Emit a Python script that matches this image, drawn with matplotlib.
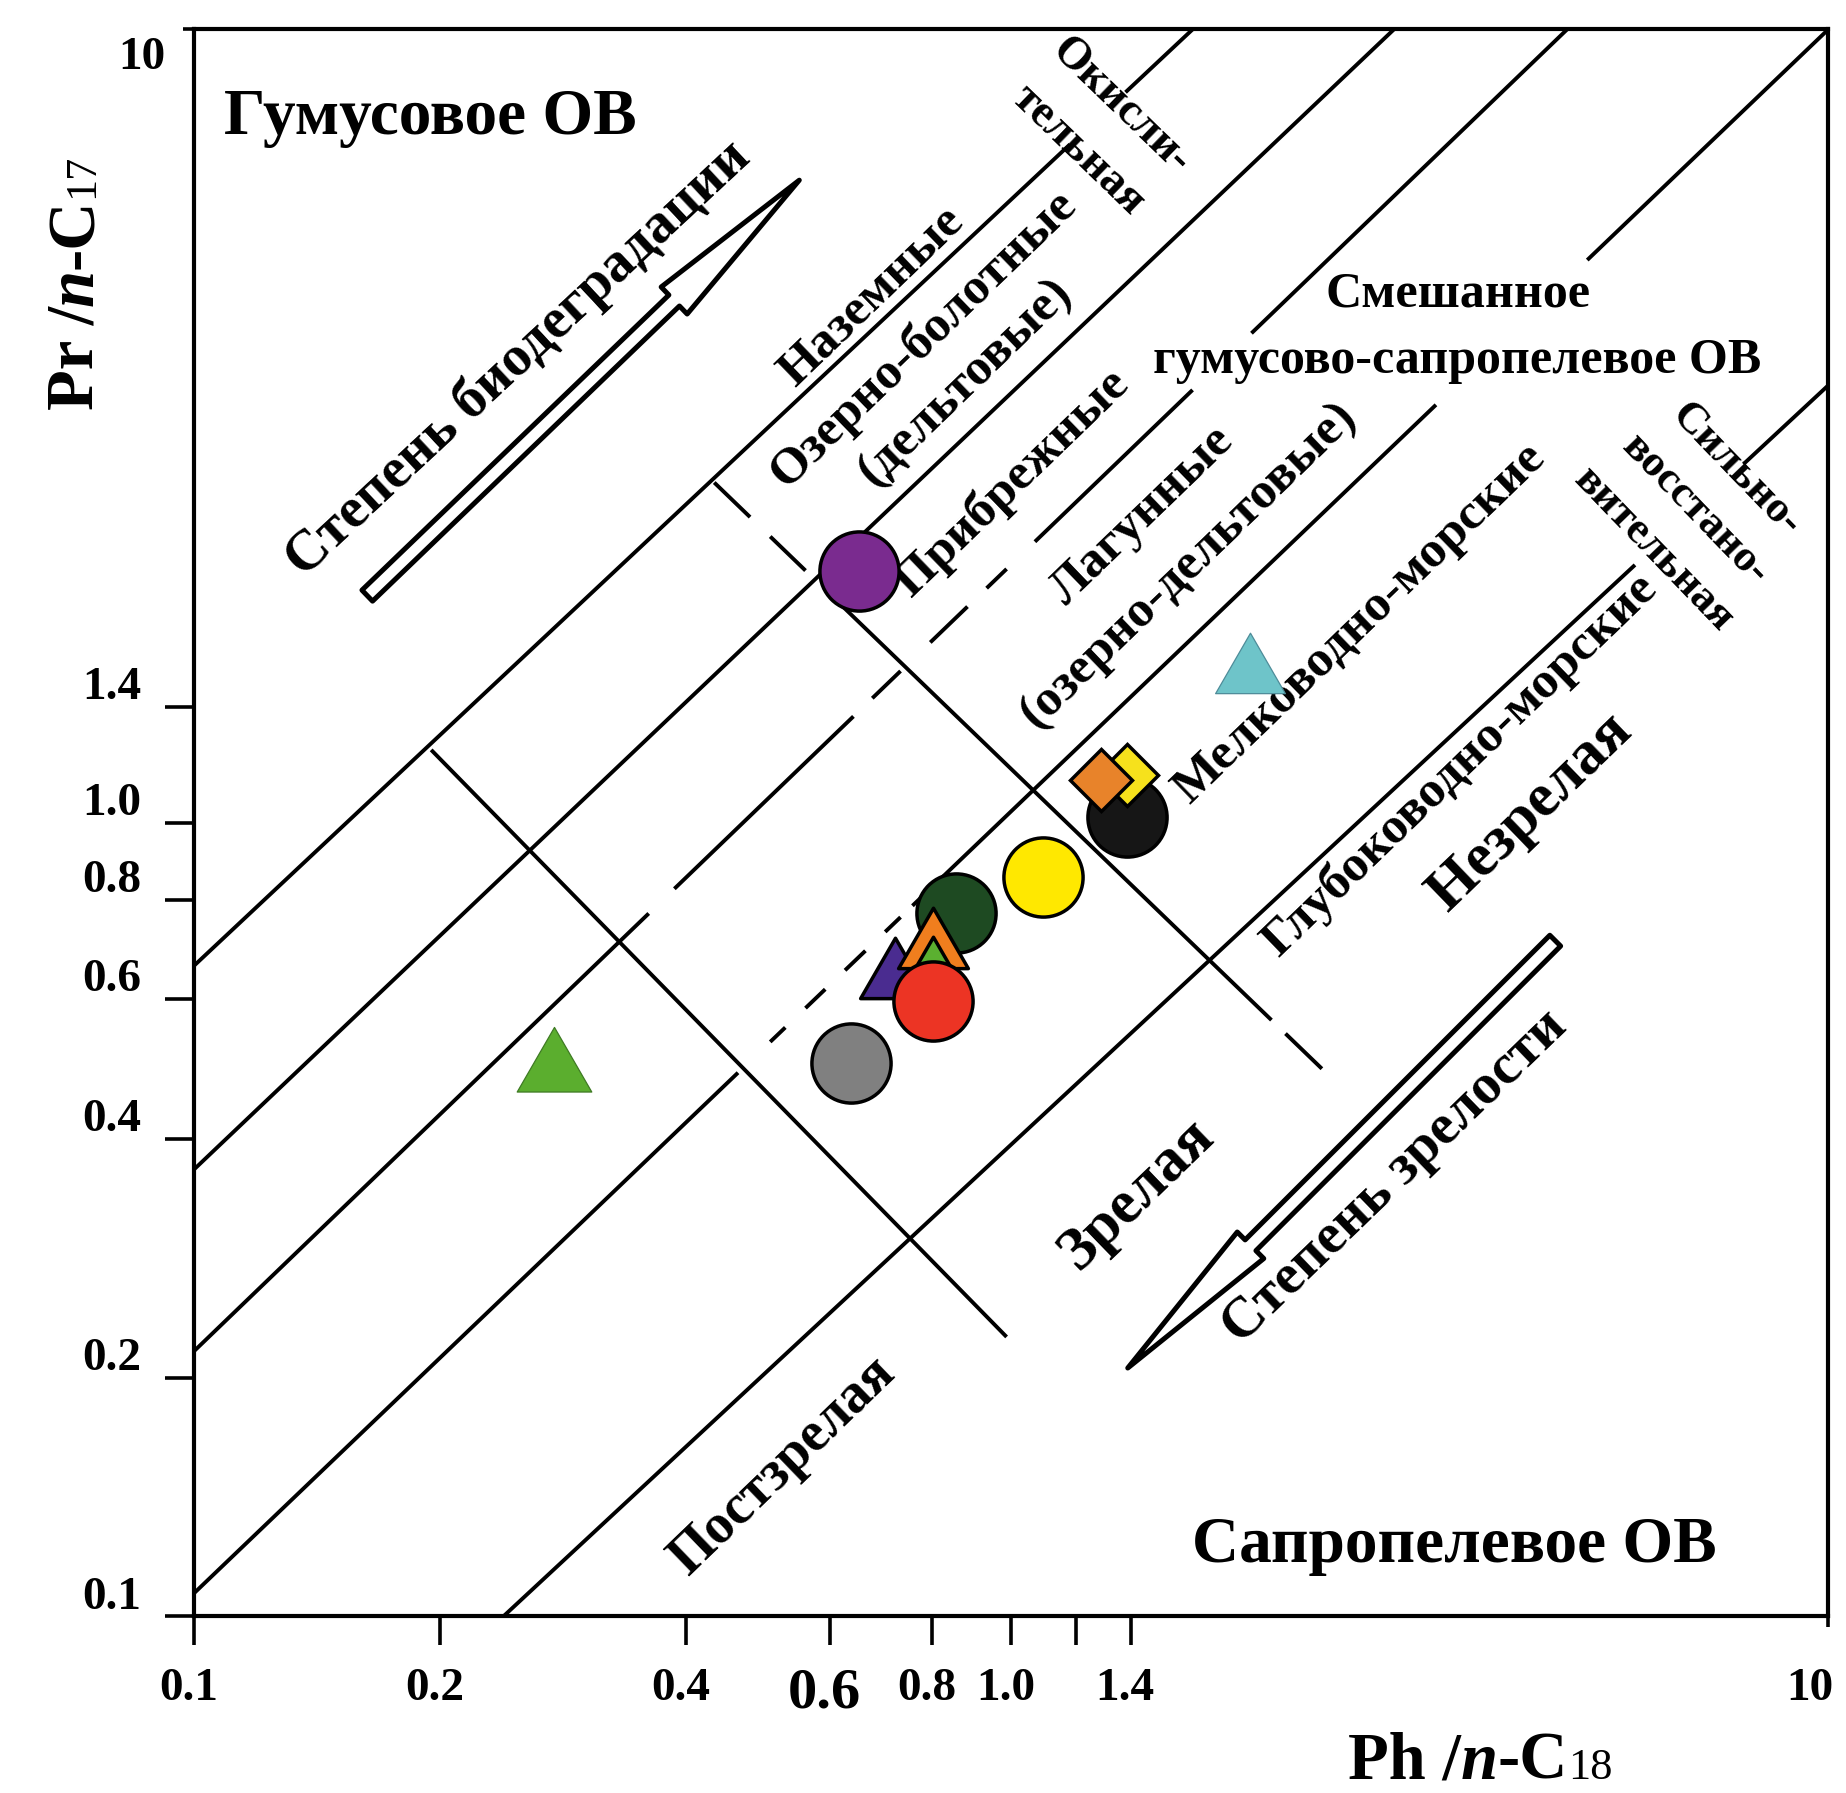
import matplotlib
matplotlib.use("Agg")
import matplotlib.pyplot as plt
import numpy as np
from matplotlib.path import Path
from matplotlib.transforms import ScaledTranslation

plt.rcParams['font.family'] = ['Liberation Serif', 'DejaVu Serif']
plt.rcParams['font.weight'] = 'bold'

# --- samples: Ph/n-C18 (x), Pr/n-C17 (y); listed from back to front
sample_x = [1.384, 1.384, 1.287, 1.094, 0.856, 0.720, 0.803, 0.803, 0.801, 0.637, 0.652, 1.961, 0.276]
sample_y = [1.017, 1.150, 1.131, 0.855, 0.771, 0.637, 0.696, 0.639, 0.597, 0.498, 2.077, 1.543, 0.488]
sample_marker = ['o', 'D', 'D', 'o', 'o', 'tri', 'tri', 'tri', 'o', 'o', 'o', 'tri', 'tri']
sample_color = ['#161616', '#F6E11C', '#E8832A', '#FFE800', '#1E4A22', '#4A2C90', '#F07E1E',
                '#5BB030', '#EC3424', '#808080', '#7A2B8F', '#6EC4C9', '#5BAE2E']
sample_edge = ['black'] * 11 + ['#4E8C99', '#3E7A23']

# --- environment lines (Pr/n-C17 vs Ph/n-C18), full extent of each line
diag_x0 = [0.1, 0.1, 0.1, 0.1, 0.239]
diag_y0 = [0.661, 0.366, 0.216, 0.107, 0.1]
diag_x1 = [1.667, 2.94, 4.79, 10.0, 10.0]
diag_y1 = [10.0, 10.0, 10.0, 10.0, 3.56]
# drawn pieces of each line: (line, x from, x to)
diag_pieces = [
    (0, 0.1, 1.18), (0, 1.38, 1.667),
    (1, 0.1, 2.94),
    (2, 0.1, 0.36), (2, 0.387, 0.641), (2, 0.676, 0.732), (2, 0.796, 0.884), (2, 0.933, 0.987),
    (2, 1.069, 1.667), (2, 1.968, 4.79),
    (3, 0.1, 0.463), (3, 0.507, 0.529), (3, 0.560, 0.592), (3, 0.626, 0.663), (3, 0.701, 0.732),
    (3, 0.757, 3.31), (3, 5.07, 10.0),
    (4, 0.239, 5.80), (4, 7.88, 10.0),
]

# --- maturity boundaries
perp_x0 = [0.195, 0.433]
perp_y0 = [1.236, 2.685]
perp_x1 = [0.987, 2.40]
perp_y1 = [0.225, 0.490]
perp_pieces = [(0, 0.195, 0.987),
               (1, 0.433, 0.479), (1, 0.507, 0.560), (1, 0.590, 2.082), (1, 2.166, 2.40)]

xtick_vals = [0.1, 0.2, 0.4, 0.6, 0.8, 1.0, 1.2, 1.4, 10]
xtick_text = ['0.1', '0.2', '0.4', '0.6', '0.8', '1.0', '', '1.4', '10']
ytick_vals = [0.1, 0.2, 0.4, 0.6, 0.8, 1.0, 1.4, 10]
ytick_text = ['0.1', '0.2', '0.4', '0.6', '0.8', '1.0', '1.4', '10']


def line_y(x, x0, y0, x1, y1):
    s = np.log(y1 / y0) / np.log(x1 / x0)
    return y0 * (x / x0) ** s


fig = plt.figure(figsize=(18.46, 17.93), dpi=100)
ax = fig.add_axes([0.1052, 0.0985, 0.8852, 0.8851])
ax.set_xscale('log')
ax.set_yscale('log')
ax.set_xlim(0.1, 10)
ax.set_ylim(0.1, 10)

lw = 2.8
for k, a, b in diag_pieces:
    xs = np.geomspace(a, b, 20)
    ax.plot(xs, line_y(xs, diag_x0[k], diag_y0[k], diag_x1[k], diag_y1[k]),
            color='black', lw=lw, solid_capstyle='butt', zorder=2)
for k, a, b in perp_pieces:
    xs = np.geomspace(a, b, 20)
    ax.plot(xs, line_y(xs, perp_x0[k], perp_y0[k], perp_x1[k], perp_y1[k]),
            color='black', lw=lw, solid_capstyle='butt', zorder=2)

tri = Path([(0, 1), (-0.866, -0.5), (0.866, -0.5), (0, 1)],
           [Path.MOVETO, Path.LINETO, Path.LINETO, Path.CLOSEPOLY])
for i in range(len(sample_x)):
    m = sample_marker[i]
    if m == 'tri':
        mk, ms = tri, 58
    elif m == 'D':
        mk, ms = 'D', 32
    else:
        mk, ms = 'o', 57
    ew = 0.9 if i >= 11 else 2.5
    if i == 12:
        ms = 62
    ax.plot(sample_x[i], sample_y[i], marker=mk, ms=ms, mfc=sample_color[i],
            mec=sample_edge[i], mew=ew, ls='none', zorder=5 + i)

# hollow arrows
arrow_style = 'simple,head_length=1.25,head_width=0.27,tail_width=0.11'
ax.annotate('', xy=(0.3703, 0.9050), xytext=(0.1059, 0.6432), xycoords='axes fraction',
            arrowprops=dict(arrowstyle=arrow_style, fc='white', ec='black', lw=3.6,
                            shrinkA=0, shrinkB=0, mutation_scale=100))
ax.annotate('', xy=(0.5713, 0.1565), xytext=(0.8329, 0.4258), xycoords='axes fraction',
            arrowprops=dict(arrowstyle=arrow_style, fc='white', ec='black', lw=3.6,
                            shrinkA=0, shrinkB=0, mutation_scale=100))

# region labels
def label(x, y, s, size, rot=0, ls=1.2):
    ax.text(x, y, s, transform=ax.transAxes, fontsize=size, rotation=rot,
            ha='center', va='center', linespacing=ls, fontweight='bold', zorder=3)

ax.text(0.018, 0.944, 'Гумусовое ОВ', transform=ax.transAxes, fontsize=47,
        ha='left', va='center', fontweight='bold')
label(0.7709, 0.0445, 'Сапропелевое ОВ', 47)
label(0.7731, 0.8119, 'Смешанное\nгумусово-сапропелевое ОВ', 36, 0, 1.6)
label(0.1981, 0.7923, 'Степень биодеградации', 41, 43)
label(0.7349, 0.2767, 'Степень зрелости', 41, 44)
label(0.4143, 0.8316, 'Наземные', 37, 44)
label(0.4589, 0.7915, 'Озерно-болотные\n(дельтовые)', 37, 44, 1.4)
label(0.5540, 0.9377, 'Окисли-\nтельная', 33, -44, 1.6)
label(0.5007, 0.7144, 'Прибрежные', 37, 44)
label(0.5944, 0.6780, 'Лагунные\n(озерно-дельтовые)', 37, 44, 1.6)
label(0.7133, 0.6254, 'Мелководно-морские', 37, 44)
label(0.9186, 0.6973, 'Сильно-\nвосстано-\nвительная', 32, -46, 1.55)
label(0.7745, 0.5364, 'Глубоководно-морские', 37, 44)
label(0.8177, 0.5067, 'Незрелая', 44, 44)
label(0.5764, 0.2656, 'Зрелая', 44, 44)
label(0.3602, 0.0950, 'Постзрелая', 40, 44)

# ticks
ax.xaxis.set_minor_locator(plt.NullLocator())
ax.yaxis.set_minor_locator(plt.NullLocator())
ax.set_xticks(xtick_vals, xtick_text)
ax.set_yticks(ytick_vals, ytick_text)
ax.tick_params(direction='out', length=21, width=2.6, labelsize=34, color='black')
ax.tick_params(axis='y', pad=17)
ax.tick_params(axis='x', pad=16)
for sp in ax.spines.values():
    sp.set_linewidth(3.0)

for t in ax.yaxis.get_major_ticks():
    t.label1.set_fontweight('bold')
for t in ax.xaxis.get_major_ticks():
    t.label1.set_fontweight('bold')

for lab in ax.get_yticklabels():
    if lab.get_text() == '10':
        off = ScaledTranslation(17 / 72, -17 / 72, fig.dpi_scale_trans)
    else:
        off = ScaledTranslation(0, 17 / 72, fig.dpi_scale_trans)
    lab.set_transform(lab.get_transform() + off)
for lab in ax.get_xticklabels():
    dx = -13 if lab.get_text() == '10' else -4
    lab.set_transform(lab.get_transform() + ScaledTranslation(dx / 72, 0, fig.dpi_scale_trans))
    if lab.get_text() == '0.6':
        lab.set_fontsize(42)
ax.yaxis.get_major_ticks()[-1].tick1line.set_markersize(8)
ax.xaxis.get_major_ticks()[-1].tick1line.set_markersize(8)

# axis titles built from pieces (italic n, smaller index)
big = 48
xl = fig.text(0.7302, 0.0171, 'Ph /', fontsize=big, ha='left', va='center', fontweight='bold')
xn = ax.annotate('n', xy=(1, 0), xycoords=xl, ha='left', va='bottom', fontsize=big,
                 fontstyle='italic', fontweight='bold', annotation_clip=False)
xc = ax.annotate('-C', xy=(1, 0), xycoords=xn, ha='left', va='bottom', fontsize=big,
                 fontweight='bold', annotation_clip=False)
ax.annotate('18', xy=(1, 0), xycoords=xc, xytext=(0, 3.5), textcoords='offset points',
            ha='left', va='bottom', fontsize=32, fontweight='normal', annotation_clip=False)

yl = fig.text(0.0413, 0.7715, 'Pr /', fontsize=big, rotation=90, ha='center', va='bottom',
              fontweight='bold')
yn = ax.annotate('n', xy=(1, 1), xycoords=yl, ha='right', va='bottom', fontsize=big, rotation=90,
                 fontstyle='italic', fontweight='bold', annotation_clip=False)
yc = ax.annotate('-C', xy=(1, 1), xycoords=yn, ha='right', va='bottom', fontsize=big, rotation=90,
                 fontweight='bold', annotation_clip=False)
ax.annotate('17', xy=(1, 1), xycoords=yc, xytext=(-3.5, 0), textcoords='offset points',
            ha='right', va='bottom', fontsize=32, rotation=90, fontweight='normal',
            annotation_clip=False)

fig.savefig('out.png', dpi=100, facecolor='white')
